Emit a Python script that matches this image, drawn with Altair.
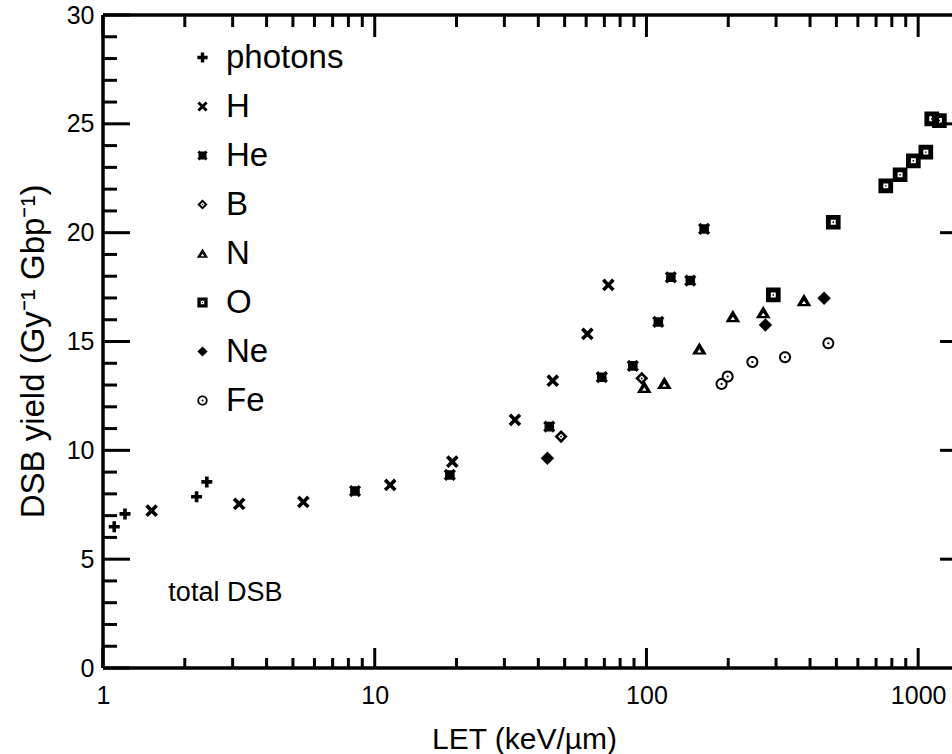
import math
import altair as alt
import pandas as pd

FONT = "Liberation Sans"

# ---------------- data ----------------
series = ["photons", "H", "He", "B", "N", "O", "Ne", "Fe"]

photons_let = [1.10, 1.205, 2.21, 2.41]
photons_dsb = [6.49, 7.08, 7.87, 8.55]

H_let = [1.51, 3.17, 5.46, 11.4, 19.3, 32.8, 45.2, 60.6, 72.4]
H_dsb = [7.23, 7.54, 7.63, 8.41, 9.48, 11.4, 13.2, 15.35, 17.6]

He_let = [8.46, 18.9, 43.9, 68.5, 89.1, 110.6, 123, 145, 163]
He_dsb = [8.13, 8.87, 11.09, 13.36, 13.88, 15.9, 17.95, 17.8, 20.17]

B_let = [48.5, 96.1]
B_dsb = [10.63, 13.31]

N_let = [98.2, 116.4, 156.6, 208, 269, 380]
N_dsb = [12.9, 13.08, 14.66, 16.15, 16.33, 16.88]

O_let = [293, 487, 760, 858, 960, 1067, 1122, 1197]
O_dsb = [17.14, 20.48, 22.15, 22.66, 23.3, 23.7, 25.23, 25.15]

Ne_let = [43.2, 274, 450.6]
Ne_dsb = [9.64, 15.76, 16.99]

Fe_let = [189, 199, 245.4, 323.6, 467]
Fe_dsb = [13.05, 13.39, 14.06, 14.28, 14.92]

x_major = [1, 10, 100, 1000]
x_minor = [2, 3, 4, 5, 6, 7, 8, 9, 20, 30, 40, 50, 60, 70, 80, 90,
           200, 300, 400, 500, 600, 700, 800, 900]
y_major = [0, 5, 10, 15, 20, 25, 30]
y_minor = [v for v in range(1, 30) if v % 5 != 0]

note_let = [1.74]
note_dsb = [3.45]
note_text = ["total DSB"]

# ---------------- marker shapes ----------------
def circle_path(r, cw=True, n=28):
    pts = [(r * math.cos(2 * math.pi * k / n), r * math.sin(2 * math.pi * k / n)) for k in range(n)]
    if not cw:
        pts = pts[::-1]
    return "M" + "L".join(f"{x:.3f},{y:.3f}" for x, y in pts) + "Z"

PLUS = "M-1,-0.33H-0.33V-1H0.33V-0.33H1V0.33H0.33V1H-0.33V0.33H-1Z"
CROSS = "M-1,-0.6L-0.6,-1L0,-0.4L0.6,-1L1,-0.6L0.4,0L1,0.6L0.6,1L0,0.4L-0.6,1L-1,0.6L-0.4,0Z"
HE = "M-0.78,-0.78H0.78V0.78H-0.78Z" + CROSS
B_RING = "M0,-1L1,0L0,1L-1,0Z" + "M0,-0.44L-0.44,0L0,0.44L0.44,0Z" + "M0,-0.17L0.17,0L0,0.17L-0.17,0Z"
N_TRI = "M0,-1L1.1,0.85L-1.1,0.85Z" + "M0,0.02L-0.32,0.52L0.32,0.52Z"
O_SQ = "M-1,-1H1V1H-1Z" + "M-0.34,-0.34V0.34H0.34V-0.34Z" + "M-0.1,-0.1H0.1V0.1H-0.1Z"
NE_D = "M0,-1L1,0L0,1L-1,0Z"
FE_C = circle_path(1.0) + circle_path(0.67, cw=False) + circle_path(0.18)

shapes = [PLUS, CROSS, HE, B_RING, N_TRI, O_SQ, NE_D, FE_C]
sizes = [121, 160, 150, 170, 180, 215, 180, 145]

# ---------------- table ----------------
groups = [
    ("photons", photons_let, photons_dsb), ("H", H_let, H_dsb), ("He", He_let, He_dsb),
    ("B", B_let, B_dsb), ("N", N_let, N_dsb), ("O", O_let, O_dsb),
    ("Ne", Ne_let, Ne_dsb), ("Fe", Fe_let, Fe_dsb),
]
rows = []
for name, xs, ys in groups:
    for a, b in zip(xs, ys):
        rows.append({"series": name, "let": a, "dsb": b})
df = pd.DataFrame(rows)

W, H = 849, 653
xscale = alt.Scale(type="log", domain=[1, 1332], nice=False)
yscale = alt.Scale(domain=[0, 30], nice=False, zero=False)

x_axis = alt.Axis(
    values=x_major, format="d", title="LET (keV/µm)", domain=False, ticks=False,
    tickSize=0, grid=False, labelFontSize=25, labelPadding=15, labelFont=FONT,
    labelColor="black", titleFont=FONT, titleFontSize=30, titleFontWeight="normal",
    titleColor="black", titleX=421, titleY=80, titleBaseline="alphabetic",
    titleAlign="center", labelFlush=False)
y_axis = alt.Axis(
    values=y_major, title="DSB yield (Gy⁻¹ Gbp⁻¹)", domain=False, ticks=False,
    tickSize=0, grid=False, labelFontSize=25, labelPadding=9, labelFont=FONT,
    labelColor="black", titleFont=FONT, titleFontSize=33, titleFontWeight="normal",
    titleColor="black", titleAngle=270, titleX=-60, titleY=336,
    titleBaseline="alphabetic", titleAlign="center", labelFlush=False)
legend = alt.Legend(
    title=None, orient="none", legendX=83, legendY=26, direction="vertical",
    labelFont=FONT, labelFontSize=33, labelColor="black", symbolSize=105,
    symbolFillColor="black", symbolStrokeWidth=0, symbolOpacity=1,
    rowPadding=15, labelOffset=7, padding=0, labelLimit=400)
shape_scale = alt.Scale(domain=series, range=shapes)

X = alt.X("let:Q", scale=xscale, axis=x_axis)
Y = alt.Y("dsb:Q", scale=yscale, axis=y_axis)

point_layers = []
for name, sz in zip(series, sizes):
    point_layers.append(
        alt.Chart(df).transform_filter(alt.datum.series == name)
        .mark_point(filled=True, opacity=1, strokeWidth=0, size=sz)
        .encode(x=X, y=Y,
                shape=alt.Shape("series:N", scale=shape_scale, legend=legend),
                color=alt.value("black"))
    )


def y_rules(vals, x1, x2, sw=3):
    return alt.Chart(pd.DataFrame({"dsb": vals})).mark_rule(color="black", strokeWidth=sw).encode(
        y=Y, x=alt.value(x1), x2=alt.value(x2))


def x_rules(vals, y1, y2, sw=3):
    return alt.Chart(pd.DataFrame({"let": vals})).mark_rule(color="black", strokeWidth=sw).encode(
        x=X, y=alt.value(y1), y2=alt.value(y2))


frame_top = y_rules([30], 0, W, 3.5)
frame_bottom = y_rules([0], 0, W, 3.5)
frame_left = x_rules([1], 0, H, 3.5)

ticks = [
    y_rules(y_major, 0, 27), y_rules(y_minor, 0, 14),
    y_rules(y_major[1:-1], W - 12, W),
    x_rules(x_major, H, H - 20), x_rules(x_minor, H, H - 10),
    x_rules(x_major, 0, 22), x_rules(x_minor, 0, 12),
]

note = alt.Chart(pd.DataFrame({"let": note_let, "dsb": note_dsb, "t": note_text})).mark_text(
    align="left", baseline="middle", fontSize=27, font=FONT, color="black").encode(
    x=X, y=Y, text="t:N")

chart = alt.layer(*point_layers, frame_top, frame_bottom, frame_left, *ticks, note).properties(
    width=W, height=H,
    autosize=alt.AutoSizeParams(type="none"),
    padding={"left": 103, "top": 15, "right": 0, "bottom": 86},
    background="white",
).configure_view(strokeWidth=0)

chart.save("out.html", embed_options={"renderer": "svg", "actions": False})
